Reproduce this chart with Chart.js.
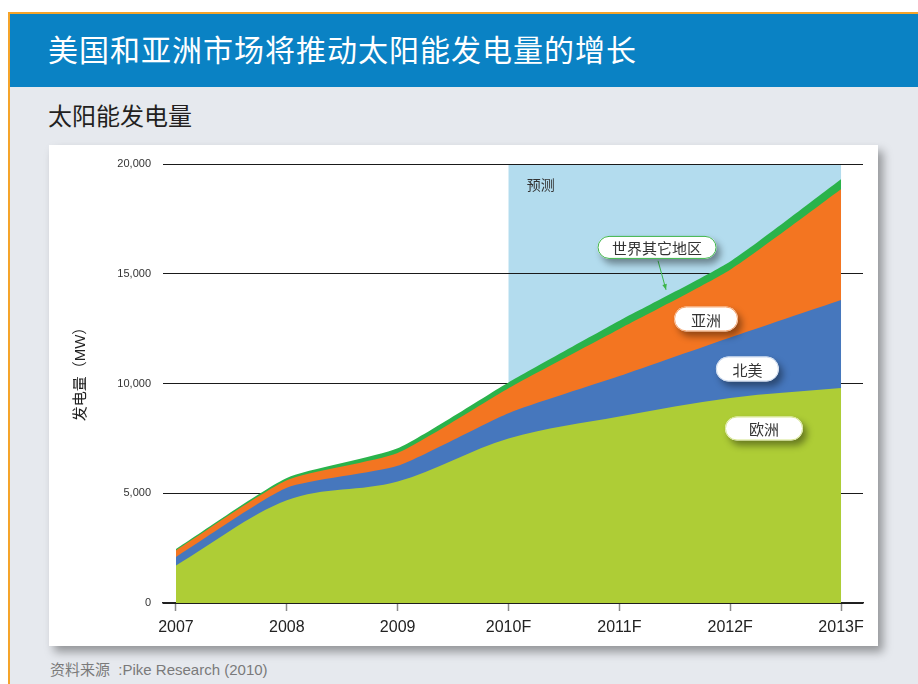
<!DOCTYPE html>
<html>
<head>
<meta charset="utf-8">
<script src="https://cdn.jsdelivr.net/npm/chart.js@4.4.1/dist/chart.umd.min.js"></script>
<style>
html,body{margin:0;padding:0;width:918px;height:684px;overflow:hidden;background:#fff;}
#frame{position:absolute;left:8px;top:12px;width:910px;height:672px;border-left:2px solid #f5a42a;border-top:2px solid #f5a42a;background:#e6e9ee;}
#header{position:absolute;left:0;top:0;width:910px;height:73px;background:#0a82c4;}
#title{position:absolute;left:38px;top:19px;color:#fff;font-size:30px;line-height:30px;letter-spacing:1px;font-family:"Noto Sans CJK SC",sans-serif;white-space:nowrap;}
#subtitle{position:absolute;left:38px;top:89px;color:#231f20;font-size:24px;line-height:24px;font-family:"Noto Sans CJK SC",sans-serif;white-space:nowrap;}
#source{position:absolute;left:40px;top:648px;color:#7a7a7a;font-size:15px;line-height:15px;font-family:"Liberation Sans","Noto Sans CJK SC",sans-serif;white-space:nowrap;}
#panel{position:absolute;left:49px;top:145px;width:829px;height:501px;background:#fff;box-shadow:5px 6px 9px rgba(0,0,0,0.36);}
#chart{display:block;}
</style>
</head>
<body>
<div id="frame">
  <div id="header"><div id="title">美国和亚洲市场将推动太阳能发电量的增长</div></div>
  <div id="subtitle">太阳能发电量</div>
  <div id="source">资料来源&nbsp;&nbsp;:Pike Research (2010)</div>
</div>
<div id="panel"><canvas id="chart" width="829" height="501"></canvas></div>
<script>
// ---- data (MW) ----
const categories = ['2007', '2008', '2009', '2010F', '2011F', '2012F', '2013F'];
const europe       = [1710, 4680, 5540, 7500, 8500, 9340, 9790];
const northAmerica = [385, 570, 710, 1150, 1840, 2760, 4020];
const asia         = [300, 340, 580, 1130, 2140, 3080, 5040];
const restOfWorld  = [65, 110, 220, 270, 380, 380, 460];
const seriesNames  = ['欧洲', '北美', '亚洲', '世界其它地区'];
const yTickLabels  = ['0', '5,000', '10,000', '15,000', '20,000'];
const forecastStart = '2010F';
const forecastEnd = '2013F';
const yTitle = '发电量（MW）';
const forecastLabel = '预测';

// ---- annotation styling/placement (data units) ----
const callouts = [
  {text: '世界其它地区', x: 4.34, y: 16200, w: 119, h: 23, border: '#3cb54a'},
  {text: '亚洲', x: 4.782, y: 12940, w: 64, h: 25, border: '#f7a36b'},
  {text: '北美', x: 5.155, y: 10660, w: 63, h: 25, border: '#c9d8ee'},
  {text: '欧洲', x: 5.305, y: 7950, w: 78, h: 24, border: '#d6e68f'}
];
const arrow = {x1: 4.349, y1: 15590, x2: 4.421, y2: 14268, color: '#3cb54a'};

const colors = ['#aecd36', '#4677bd', '#f37521', '#2ab34b'];
const allSeries = [europe, northAmerica, asia, restOfWorld];

const datasets = allSeries.map((arr, si) => ({
  label: seriesNames[si],
  data: arr.map((v, i) => ({x: i, y: v})),
  backgroundColor: colors[si],
  borderColor: 'rgba(0,0,0,0)',
  borderWidth: 0,
  pointRadius: 0,
  pointHoverRadius: 0,
  fill: 'origin',
  cubicInterpolationMode: si === 0 ? 'monotone' : 'default',
  tension: si === 0 ? 0 : 0.18
}));

function pillPath(ctx, x, y, w, h) {
  const r = h / 2;
  ctx.beginPath();
  ctx.moveTo(x + r, y);
  ctx.lineTo(x + w - r, y);
  ctx.arc(x + w - r, y + r, r, -Math.PI / 2, Math.PI / 2);
  ctx.lineTo(x + r, y + h);
  ctx.arc(x + r, y + r, r, Math.PI / 2, Math.PI * 1.5);
  ctx.closePath();
}

const decor = {
  id: 'decor',
  beforeDraw(chart) {
    const {ctx, scales: {x, y}} = chart;
    const i0 = categories.indexOf(forecastStart), i1 = categories.indexOf(forecastEnd);
    const left = x.getPixelForValue(i0), right = x.getPixelForValue(i1);
    const top = y.getPixelForValue(20000), bottom = y.getPixelForValue(0);
    ctx.save();
    ctx.fillStyle = '#b3dcee';
    ctx.fillRect(left, top, right - left, bottom - top);
    ctx.fillStyle = '#333';
    ctx.font = '14px "Noto Sans CJK SC"';
    ctx.textAlign = 'left';
    ctx.textBaseline = 'middle';
    ctx.fillText(forecastLabel, x.getPixelForValue(3.164), y.getPixelForValue(19049));
    // y title
    const ca = chart.chartArea;
    ctx.translate(ca.left - 82, (ca.top + ca.bottom) / 2 - 13);
    ctx.rotate(-Math.PI / 2);
    ctx.font = '15px "Liberation Sans", "Noto Sans CJK SC"';
    ctx.fillStyle = '#222';
    ctx.textAlign = 'center';
    ctx.fillText(yTitle, 0, 0);
    ctx.restore();
  },
  afterDatasetsDraw(chart) {
    const {ctx, scales: {x, y}} = chart;
    ctx.save();
    // arrow
    const ax1 = x.getPixelForValue(arrow.x1), ay1 = y.getPixelForValue(arrow.y1);
    const ax2 = x.getPixelForValue(arrow.x2), ay2 = y.getPixelForValue(arrow.y2);
    ctx.strokeStyle = arrow.color; ctx.fillStyle = arrow.color; ctx.lineWidth = 1;
    ctx.beginPath(); ctx.moveTo(ax1, ay1); ctx.lineTo(ax2, ay2); ctx.stroke();
    const ang = Math.atan2(ay2 - ay1, ax2 - ax1);
    ctx.beginPath();
    ctx.moveTo(ax2, ay2);
    ctx.lineTo(ax2 - 6 * Math.cos(ang - 0.4), ay2 - 6 * Math.sin(ang - 0.4));
    ctx.lineTo(ax2 - 6 * Math.cos(ang + 0.4), ay2 - 6 * Math.sin(ang + 0.4));
    ctx.closePath(); ctx.fill();
    // callouts
    callouts.forEach(c => {
      const cx = x.getPixelForValue(c.x), cy = y.getPixelForValue(c.y);
      const bx = cx - c.w / 2, by = cy - c.h / 2;
      ctx.save();
      ctx.shadowColor = 'rgba(0,0,0,0.4)';
      ctx.shadowBlur = 7; ctx.shadowOffsetX = 4; ctx.shadowOffsetY = 5;
      pillPath(ctx, bx, by, c.w, c.h);
      ctx.fillStyle = '#fff'; ctx.fill();
      ctx.restore();
      pillPath(ctx, bx + 0.5, by + 0.5, c.w - 1, c.h - 1);
      ctx.strokeStyle = c.border; ctx.lineWidth = 1; ctx.stroke();
      ctx.fillStyle = '#333';
      ctx.font = '15px "Noto Sans CJK SC"';
      ctx.textAlign = 'center'; ctx.textBaseline = 'middle';
      ctx.fillText(c.text, cx, cy + 1);
    });
    ctx.restore();
  }
};

new Chart(document.getElementById('chart'), {
  type: 'line',
  data: {datasets},
  options: {
    responsive: false,
    animation: false,
    events: [],
    layout: {padding: {top: 19, right: 15, left: 0, bottom: 0}},
    plugins: {legend: {display: false}, tooltip: {enabled: false}, title: {display: false}},
    scales: {
      x: {
        type: 'linear',
        min: -0.117,
        max: 6.198,
        afterBuildTicks: s => { s.ticks = categories.map((_, i) => ({value: i})); },
        afterFit: s => { s.height = 43; },
        grid: {display: true, drawOnChartArea: false, drawTicks: true, tickLength: 8, tickColor: '#8a8a8a', tickWidth: 1.5},
        border: {display: true, color: '#222', width: 1.5},
        ticks: {
          autoSkip: false, maxRotation: 0, padding: 7,
          color: '#222',
          font: {family: '"Liberation Sans", Arial, sans-serif', size: 16},
          callback: v => categories[v] ?? ''
        }
      },
      y: {
        stacked: true,
        min: 0,
        max: 20000,
        afterFit: s => { s.width = 114; },
        grid: {color: '#1a1a1a', lineWidth: 1, drawTicks: false},
        border: {display: false},
        ticks: {
          stepSize: 5000, padding: 12, color: '#333',
          font: {family: '"Liberation Sans", Arial, sans-serif', size: 11},
          callback: (v) => yTickLabels[Math.round(v / 5000)]
        }
      }
    }
  },
  plugins: [decor]
});
</script>
</body>
</html>
